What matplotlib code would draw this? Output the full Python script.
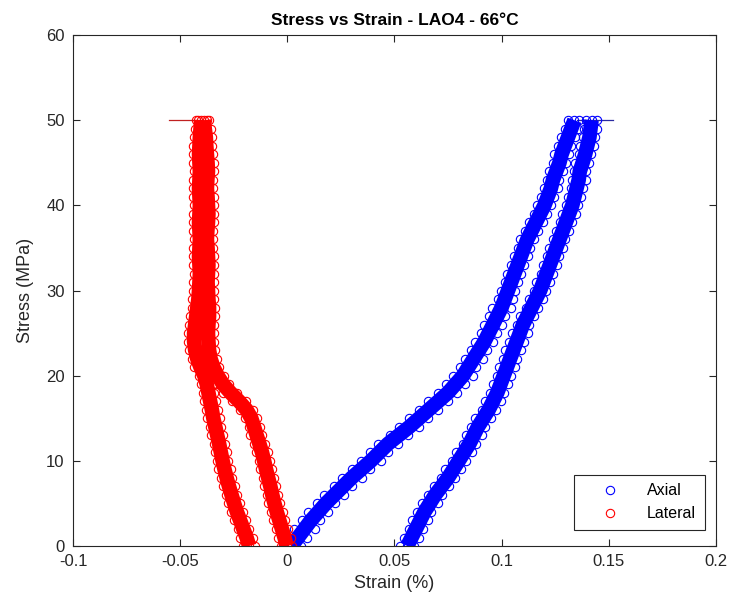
import matplotlib
matplotlib.use("Agg")
import matplotlib.pyplot as plt
from matplotlib.lines import Line2D

plt.rcParams['font.family'] = ['Liberation Sans', 'DejaVu Sans']

# stress levels (MPa) shared by every branch
stress = [0, 1, 2, 3, 4, 5, 6, 7, 8, 9, 10, 11, 12, 13, 14, 15, 16, 17, 18, 19, 20,
          21, 22, 23, 24, 25, 26, 27, 28, 29, 30, 31, 32, 33, 34, 35, 36, 37, 38, 39, 40,
          41, 42, 43, 44, 45, 46, 47, 48, 49, 50]

# axial strain (%), loading branch : left edge / middle / right edge of the scatter band
axial_load_lo = [-0.0022, 0.0008, 0.0032, 0.0068, 0.0098, 0.0137, 0.0172, 0.0218, 0.0253, 0.0302, 0.0343,
                 0.0388, 0.0422, 0.0478, 0.0523, 0.0568, 0.0617, 0.0658, 0.0703, 0.0742, 0.0772,
                 0.0808, 0.0828, 0.0857, 0.0878, 0.0902, 0.0918, 0.0943, 0.0957, 0.0982, 0.0996,
                 0.1015, 0.1026, 0.1045, 0.1056, 0.1075, 0.1086, 0.1110, 0.1126, 0.1150, 0.1166,
                 0.1185, 0.1196, 0.1210, 0.1222, 0.1240, 0.1247, 0.1265, 0.1278, 0.1295, 0.1310]
axial_load_mid = [0.002, 0.005, 0.008, 0.011, 0.0145, 0.018, 0.022, 0.026, 0.030, 0.0345, 0.039,
                  0.043, 0.047, 0.052, 0.057, 0.0615, 0.066, 0.0705, 0.075, 0.0785, 0.082,
                  0.0845, 0.087, 0.0895, 0.092, 0.094, 0.096, 0.098, 0.100, 0.1015, 0.103,
                  0.1045, 0.106, 0.1075, 0.109, 0.1105, 0.112, 0.114, 0.116, 0.118, 0.120,
                  0.1215, 0.123, 0.124, 0.1255, 0.127, 0.128, 0.1295, 0.131, 0.1325, 0.134]
axial_load_hi = [0.0062, 0.0093, 0.0127, 0.0153, 0.0192, 0.0223, 0.0267, 0.0303, 0.0348, 0.0388, 0.0437,
                 0.0472, 0.0518, 0.0563, 0.0617, 0.0658, 0.0703, 0.0752, 0.0793, 0.0828, 0.0867,
                 0.0883, 0.0912, 0.0933, 0.0962, 0.0978, 0.1002, 0.1017, 0.1042, 0.1053, 0.1063,
                 0.1078, 0.1093, 0.1105, 0.1124, 0.1135, 0.1153, 0.1170, 0.1193, 0.1210, 0.1233,
                 0.1245, 0.1263, 0.1270, 0.1288, 0.1300, 0.1313, 0.1325, 0.1343, 0.1355, 0.1362]

# axial strain (%), unloading branch
axial_unload_lo = [0.0527, 0.0543, 0.0568, 0.0583, 0.0607, 0.0628, 0.0657, 0.0683, 0.0718, 0.0738, 0.0767,
                   0.0788, 0.0818, 0.0833, 0.0857, 0.0878, 0.0907, 0.0923, 0.0947, 0.0958, 0.0977,
                   0.0988, 0.1007, 0.1018, 0.1037, 0.1048, 0.1072, 0.1088, 0.1112, 0.1128, 0.1152,
                   0.1163, 0.1182, 0.1193, 0.1212, 0.1223, 0.1242, 0.1253, 0.1272, 0.1283, 0.1302,
                   0.1308, 0.1322, 0.1328, 0.1337, 0.1345, 0.1362, 0.1368, 0.1382, 0.1385, 0.1395]
axial_unload_mid = [0.056, 0.058, 0.060, 0.062, 0.064, 0.0665, 0.069, 0.072, 0.075, 0.0775, 0.080,
                    0.0825, 0.085, 0.087, 0.089, 0.0915, 0.094, 0.096, 0.098, 0.0995, 0.101,
                    0.1025, 0.104, 0.1055, 0.107, 0.1085, 0.110, 0.112, 0.114, 0.116, 0.118,
                    0.1195, 0.121, 0.1225, 0.124, 0.1255, 0.127, 0.1285, 0.130, 0.1315, 0.133,
                    0.134, 0.135, 0.136, 0.1365, 0.1378, 0.139, 0.140, 0.141, 0.1415, 0.142]
axial_unload_hi = [0.0593, 0.0617, 0.0633, 0.0657, 0.0673, 0.0702, 0.0723, 0.0757, 0.0783, 0.0812, 0.0833,
                   0.0862, 0.0883, 0.0907, 0.0923, 0.0952, 0.0973, 0.0997, 0.1013, 0.1032, 0.1043,
                   0.1062, 0.1073, 0.1092, 0.1103, 0.1122, 0.1128, 0.1152, 0.1168, 0.1192, 0.1208,
                   0.1227, 0.1238, 0.1257, 0.1268, 0.1287, 0.1298, 0.1317, 0.1328, 0.1347, 0.1358,
                   0.1372, 0.1378, 0.1392, 0.1393, 0.1408, 0.1418, 0.1432, 0.1438, 0.1445, 0.1445]

# lateral strain (%), loading branch
lateral_load_lo = [-0.0028, -0.0043, -0.0051, -0.0066, -0.0075, -0.0089, -0.0096, -0.0108, -0.0115, -0.0128, -0.0134,
                   -0.0147, -0.0156, -0.0172, -0.0181, -0.0198, -0.0222, -0.0258, -0.0298, -0.0332, -0.0355,
                   -0.0373, -0.0386, -0.0393, -0.0398, -0.0397, -0.0396, -0.0392, -0.0394, -0.0395, -0.0399,
                   -0.0399, -0.0398, -0.0395, -0.0399, -0.0399, -0.0403, -0.0400, -0.0399, -0.0395, -0.0399,
                   -0.0399, -0.0403, -0.0400, -0.0399, -0.0399, -0.0403, -0.0405, -0.0408, -0.0412, -0.0415]
lateral_load_mid = [-0.0003, -0.0013, -0.0025, -0.0037, -0.0049, -0.006, -0.007, -0.0079, -0.0089, -0.0099, -0.0108,
                    -0.0118, -0.013, -0.0143, -0.0155, -0.0168, -0.019, -0.0225, -0.0265, -0.030, -0.0325,
                    -0.0345, -0.0358, -0.0365, -0.0368, -0.037, -0.0368, -0.0365, -0.0365, -0.0368, -0.037,
                    -0.0372, -0.037, -0.0368, -0.037, -0.0372, -0.0375, -0.0373, -0.037, -0.0368, -0.037,
                    -0.0372, -0.0375, -0.0373, -0.037, -0.0372, -0.0375, -0.0378, -0.038, -0.0385, -0.039]
lateral_load_hi = [0.0022, 0.0015, 0.0004, -0.0009, -0.0022, -0.0033, -0.0043, -0.0052, -0.0062, -0.0071, -0.0081,
                   -0.0091, -0.0103, -0.0116, -0.0126, -0.0141, -0.0158, -0.0192, -0.0233, -0.0270, -0.0296,
                   -0.0318, -0.0330, -0.0337, -0.0341, -0.0342, -0.0341, -0.0337, -0.0338, -0.0340, -0.0343,
                   -0.0344, -0.0342, -0.0341, -0.0342, -0.0345, -0.0347, -0.0346, -0.0342, -0.0341, -0.0343,
                   -0.0344, -0.0348, -0.0345, -0.0343, -0.0344, -0.0348, -0.0350, -0.0353, -0.0358, -0.0365]

# lateral strain (%), unloading branch
lateral_unload_lo = [-0.0205, -0.0220, -0.0231, -0.0249, -0.0262, -0.0277, -0.0286, -0.0301, -0.0310, -0.0322, -0.0328,
                     -0.0339, -0.0344, -0.0356, -0.0363, -0.0374, -0.0379, -0.0389, -0.0395, -0.0405, -0.0414,
                     -0.0434, -0.0447, -0.0460, -0.0462, -0.0465, -0.0457, -0.0455, -0.0447, -0.0444, -0.0439,
                     -0.0439, -0.0435, -0.0439, -0.0439, -0.0439, -0.0435, -0.0439, -0.0439, -0.0439, -0.0435,
                     -0.0439, -0.0439, -0.0439, -0.0435, -0.0439, -0.0439, -0.0439, -0.0435, -0.0432, -0.0428]
lateral_unload_mid = [-0.0178, -0.019, -0.0205, -0.022, -0.0235, -0.0248, -0.026, -0.0272, -0.0283, -0.0293, -0.0302,
                      -0.031, -0.0318, -0.0327, -0.0336, -0.0345, -0.0352, -0.036, -0.0368, -0.0376, -0.0387,
                      -0.0405, -0.042, -0.043, -0.0435, -0.0435, -0.043, -0.0425, -0.042, -0.0415, -0.0412,
                      -0.041, -0.0408, -0.041, -0.0412, -0.041, -0.0408, -0.041, -0.0412, -0.041, -0.0408,
                      -0.041, -0.0412, -0.041, -0.0408, -0.041, -0.0412, -0.041, -0.0408, -0.0405, -0.0402]
lateral_unload_hi = [-0.0150, -0.0161, -0.0178, -0.0191, -0.0208, -0.0219, -0.0233, -0.0243, -0.0256, -0.0264, -0.0275,
                     -0.0281, -0.0291, -0.0298, -0.0309, -0.0316, -0.0325, -0.0331, -0.0341, -0.0347, -0.0360,
                     -0.0376, -0.0393, -0.0401, -0.0408, -0.0406, -0.0403, -0.0396, -0.0393, -0.0386, -0.0385,
                     -0.0381, -0.0381, -0.0381, -0.0385, -0.0381, -0.0381, -0.0381, -0.0385, -0.0381, -0.0381,
                     -0.0381, -0.0385, -0.0381, -0.0381, -0.0381, -0.0385, -0.0381, -0.0381, -0.0378, -0.0376]

# short hold lines at peak stress
hold_stress = [50, 50]
hold_axial = [0.135, 0.152]
hold_lateral = [-0.055, -0.040]

fig = plt.figure(figsize=(7.33, 6.09), dpi=100)
ax = fig.add_axes([0.0996, 0.1034, 0.877, 0.839])

blue = '#0000ff'
red = '#ff0000'
mk = dict(linestyle='none', marker='o', markersize=6, markerfacecolor='none', markeredgewidth=0.8)


def branch(lo, mid, hi, col):
    # dense core of the scatter band, then the rings on top
    ax.plot(mid, stress, color=col, lw=10.5, solid_capstyle='butt', solid_joinstyle='round')
    for xs in [lo, mid, hi]:
        ax.plot(xs, stress, color=col, markeredgecolor=col, **mk)


ax.plot(hold_axial, hold_stress, color='#2a2aa0', lw=0.9)
branch(axial_load_lo, axial_load_mid, axial_load_hi, blue)
branch(axial_unload_lo, axial_unload_mid, axial_unload_hi, blue)

ax.plot(hold_lateral, hold_stress, color='#c02020', lw=0.9)
branch(lateral_load_lo, lateral_load_mid, lateral_load_hi, red)
branch(lateral_unload_lo, lateral_unload_mid, lateral_unload_hi, red)

ax.set_xlim(-0.1, 0.2)
ax.set_ylim(0, 60)
ax.set_xticks([-0.1, -0.05, 0, 0.05, 0.1, 0.15, 0.2])
ax.set_xticklabels(['-0.1', '-0.05', '0', '0.05', '0.1', '0.15', '0.2'])
ax.set_yticks([0, 10, 20, 30, 40, 50, 60])

axcol = '#262626'
for sp in ax.spines.values():
    sp.set_color(axcol)
    sp.set_linewidth(0.8)
ax.tick_params(direction='in', top=True, right=True, length=5, width=0.8,
               colors=axcol, labelsize=12, pad=6)

ax.set_xlabel('Strain (%)', fontsize=13, color=axcol, labelpad=4)
ax.set_ylabel('Stress (MPa)', fontsize=13, color=axcol, labelpad=9)
ax.set_title('Stress vs Strain - LAO4 - 66°C', fontsize=12.5, fontweight='bold', pad=7)

handles = [Line2D([], [], color=blue, **mk), Line2D([], [], color=red, **mk)]
handles[0].set_markeredgecolor(blue)
handles[1].set_markeredgecolor(red)
leg = ax.legend(handles, ['Axial', 'Lateral'], loc='lower right', fontsize=11.5,
                fancybox=False, framealpha=1, edgecolor=axcol, borderpad=0.55,
                handlelength=3.4, handletextpad=0.6, labelspacing=0.5,
                borderaxespad=0, bbox_to_anchor=(0.983, 0.031))
leg.get_frame().set_linewidth(0.8)

fig.savefig('out.png', dpi=100)
